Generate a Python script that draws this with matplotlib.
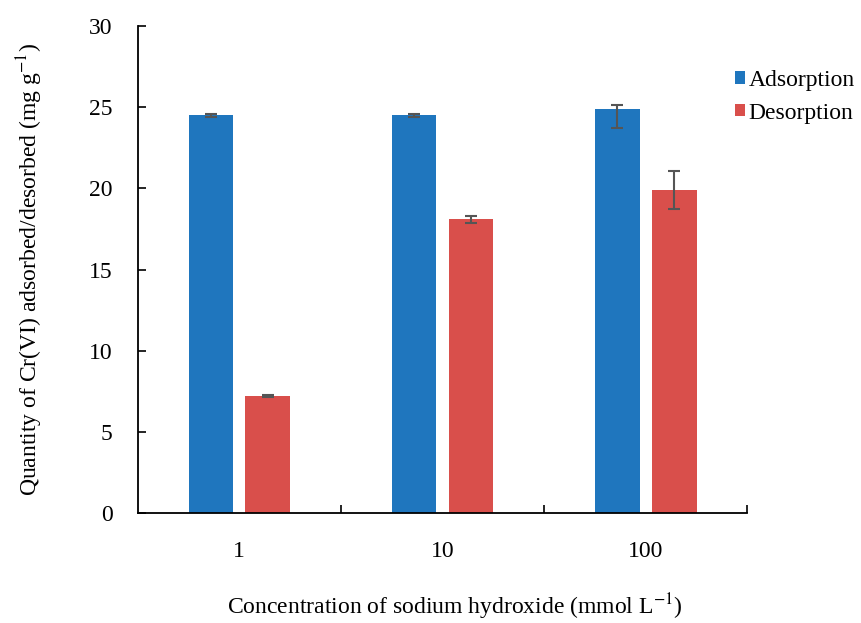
import matplotlib
matplotlib.use("Agg")
import matplotlib.pyplot as plt
import numpy as np

categories = ["1", "10", "100"]
adsorption = [24.5, 24.5, 24.9]
adsorption_err_low = [0.08, 0.08, 1.2]
adsorption_err_high = [0.08, 0.08, 0.25]
desorption = [7.2, 18.1, 19.9]
desorption_err = [0.08, 0.22, 1.15]

plt.rcParams['font.family'] = ['Liberation Serif', 'DejaVu Serif']
plt.rcParams['mathtext.fontset'] = 'stix'

fig = plt.figure(figsize=(8.61, 6.23), dpi=100)
ax = fig.add_axes([0.160, 0.1766, 0.708, 0.7814])

x = np.arange(len(categories))
w = 0.22
off = 0.14
blue = '#1F76BE'
red = '#D94F4B'
ekw = dict(ecolor='#555555', elinewidth=1.5, capsize=4, capthick=1.5)
ax.bar(x - off, adsorption, w, yerr=[adsorption_err_low, adsorption_err_high],
       color=blue, label='Adsorption', error_kw=ekw)
ax.bar(x + off, desorption, w, yerr=desorption_err, color=red, label='Desorption', error_kw=ekw)

ax.set_xlim(-0.5, 2.5)
ax.set_ylim(0, 30)
ax.set_yticks(np.arange(0, 31, 5))
ax.set_xticks(x)
ax.set_xticklabels(categories)
ax.set_xticks([0.5, 1.5, 2.5], minor=True)
ax.tick_params(axis='x', which='major', length=0, pad=20, labelsize=17)
ax.tick_params(axis='x', which='minor', direction='in', length=6, width=1.2)
ax.tick_params(axis='y', direction='in', length=6, width=1.2, pad=18, labelsize=17)
for s in ['top', 'right']:
    ax.spines[s].set_visible(False)
for s in ['left', 'bottom']:
    ax.spines[s].set_linewidth(1.3)

ax.set_ylabel('Quantity of Cr(VI) adsorbed/desorbed (mg g$^{-1}$)', fontsize=17, labelpad=32)
fig.text(0.528, 0.026, 'Concentration of sodium hydroxide (mmol L$^{-1}$)', fontsize=17,
         ha='center', va='center')

leg = ax.legend(loc='upper left', bbox_to_anchor=(0.98, 0.91), frameon=False,
                fontsize=17, handlelength=0.42, handleheight=0.42, handletextpad=0.15,
                labelspacing=0.5, borderaxespad=0, borderpad=0)

fig.savefig('out.png', dpi=100)
